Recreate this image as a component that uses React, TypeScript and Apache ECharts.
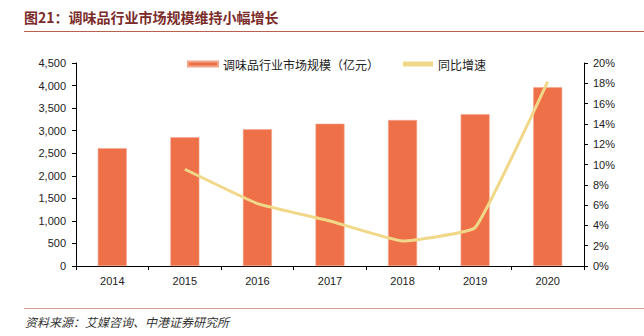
import React, { useEffect, useRef } from "react";
import * as echarts from "echarts";

const years = ["2014", "2015", "2016", "2017", "2018", "2019", "2020"];
const marketSize = [2610, 2853, 3030, 3155, 3236, 3363, 3961];
const growth = [null, 0.0953, 0.0615, 0.0443, 0.0246, 0.0378, 0.1816];
const barName = "调味品行业市场规模（亿元）";
const lineName = "同比增速";
const titleText = "图21：调味品行业市场规模维持小幅增长";
const sourceText = "资料来源：艾媒咨询、中港证券研究所";

const BAR_COLOR = "#EE7049";
const LINE_COLOR = "#F1D888";
const FONT = "'Liberation Sans', Arial, 'Noto Sans CJK SC', sans-serif";

export default function App() {
  const ref = useRef<HTMLDivElement>(null);
  useEffect(() => {
    if (!ref.current) return;
    const chart = echarts.init(ref.current, null, { renderer: "svg" });
    chart.setOption({
      animation: false,
      backgroundColor: "#ffffff",
      textStyle: { fontFamily: FONT },
      graphic: [
        {
          type: "text",
          left: 24,
          top: 10,
          style: {
            text: titleText,
            fill: "#7A2C2A",
            font: "bold 14px 'Noto Sans CJK SC', 'Liberation Sans', sans-serif",
          },
        },
        {
          type: "line",
          shape: { x1: 24, y1: 31.5, x2: 644, y2: 31.5 },
          style: { stroke: "#B9614E", lineWidth: 1.2 },
        },
        {
          type: "line",
          shape: { x1: 24, y1: 308.5, x2: 644, y2: 308.5 },
          style: { stroke: "#D9A496", lineWidth: 1.2 },
        },
        {
          type: "text",
          left: 25,
          top: 315,
          style: {
            text: sourceText,
            fill: "#333333",
            font: "italic 12px 'Noto Sans CJK SC', sans-serif",
          },
        },
      ],
      legend: {
        top: 53,
        left: 182,
        itemWidth: 30,
        itemHeight: 5,
        itemGap: 24,
        textStyle: { fontSize: 12, color: "#222", fontFamily: "'Noto Sans CJK SC', sans-serif" },
        data: [
          { name: barName, icon: "rect" },
          { name: lineName, icon: "rect" },
        ],
      },
      grid: { left: 76, right: 60, top: 63, bottom: 70 },
      xAxis: {
        type: "category",
        data: years,
        axisLine: { lineStyle: { color: "#000", width: 1 } },
        axisTick: { show: true, length: 4, lineStyle: { color: "#000" } },
        axisLabel: { color: "#222", fontSize: 11, margin: 9, fontFamily: FONT },
      },
      yAxis: [
        {
          type: "value",
          min: 0,
          max: 4500,
          interval: 500,
          splitLine: { show: false },
          axisLine: { show: true, lineStyle: { color: "#000" } },
          axisTick: { show: true, length: 4, lineStyle: { color: "#000" } },
          axisLabel: {
            color: "#222",
            fontSize: 11,
            margin: 10,
            fontFamily: FONT,
            formatter: (v: number) => v.toLocaleString("en-US"),
          },
        },
        {
          type: "value",
          min: 0,
          max: 0.2,
          interval: 0.02,
          position: "right",
          splitLine: { show: false },
          axisLine: { show: true, lineStyle: { color: "#000" } },
          axisTick: { show: true, length: 4, lineStyle: { color: "#000" } },
          axisLabel: {
            color: "#222",
            fontSize: 11,
            margin: 9,
            fontFamily: FONT,
            formatter: (v: number) => Math.round(v * 100) + "%",
          },
        },
      ],
      series: [
        {
          name: barName,
          type: "bar",
          data: marketSize,
          barWidth: 29,
          itemStyle: { color: BAR_COLOR, borderColor: "#F4A68C", borderWidth: 0.6 },
        },
        {
          name: lineName,
          type: "line",
          yAxisIndex: 1,
          data: growth,
          symbol: "none",
          smooth: 0.1,
          connectNulls: false,
          lineStyle: { color: LINE_COLOR, width: 3 },
          itemStyle: { color: LINE_COLOR },
        },
      ],
    });
    return () => chart.dispose();
  }, []);
  return <div ref={ref} style={{ width: 644, height: 336, position: "absolute", left: 0, top: 0 }} />;
}
